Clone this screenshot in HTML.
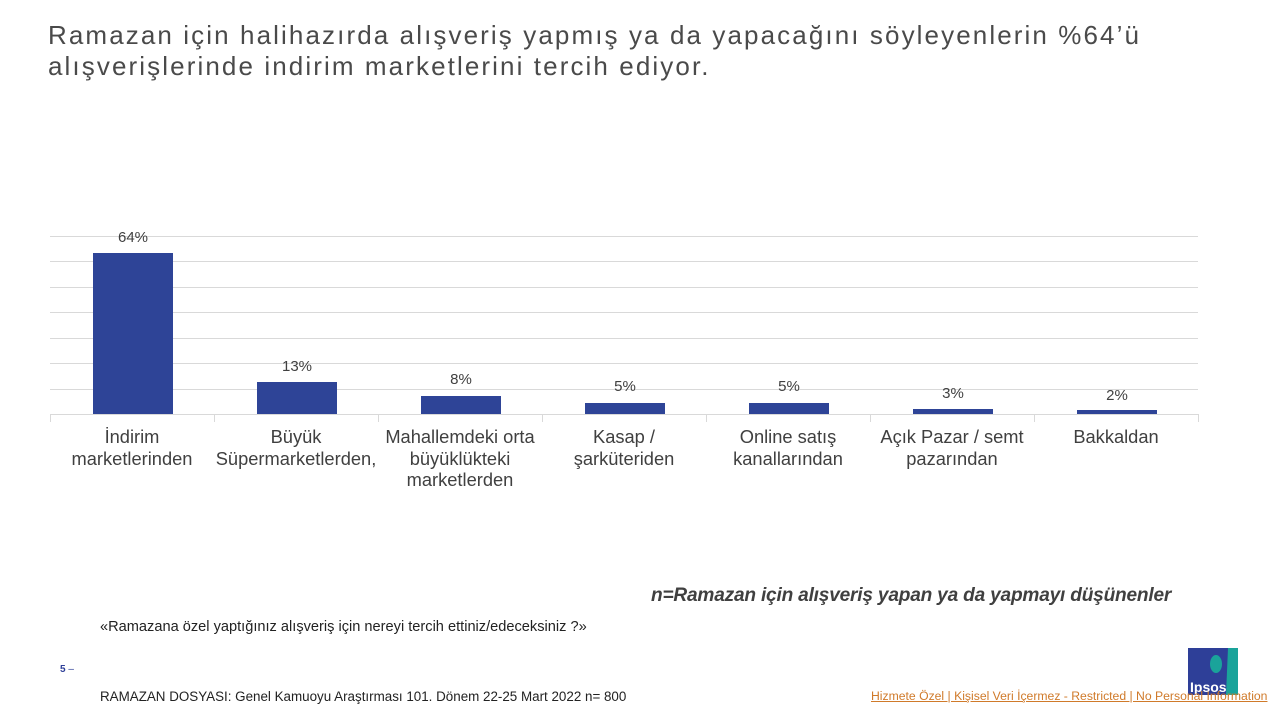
<!DOCTYPE html>
<html><head><meta charset="utf-8"><style>
body{margin:0;width:1280px;height:720px;background:#fff;position:relative;overflow:hidden;font-family:"Liberation Sans",sans-serif;color:#404040}
.t{position:absolute;left:48px;top:20px;font-size:26px;line-height:31px;letter-spacing:2.1px;color:#4a4a4a;white-space:nowrap}
.a{position:absolute;white-space:nowrap}
.lab{position:absolute;top:426px;width:164px;text-align:center;font-size:18.3px;line-height:21.5px;color:#404040;white-space:nowrap}
.v{position:absolute;width:80px;text-align:center;font-size:15px;color:#404040}
</style></head><body>
<div class="t">Ramazan için halihazırda alışveriş yapmış ya da yapacağını söyleyenlerin %64’ü<br>alışverişlerinde indirim marketlerini tercih ediyor.</div>
<svg class="a" style="left:0;top:0" width="1280" height="720">
<g stroke="#d9d9d9" stroke-width="1">
<line x1="50" x2="1198" y1="236.5" y2="236.5"/><line x1="50" x2="1198" y1="261.5" y2="261.5"/>
<line x1="50" x2="1198" y1="287.5" y2="287.5"/><line x1="50" x2="1198" y1="312.5" y2="312.5"/>
<line x1="50" x2="1198" y1="338.5" y2="338.5"/><line x1="50" x2="1198" y1="363.5" y2="363.5"/>
<line x1="50" x2="1198" y1="389.5" y2="389.5"/><line x1="50" x2="1198" y1="414.5" y2="414.5"/>
<line x1="50.5" x2="50.5" y1="414" y2="422"/><line x1="214.5" x2="214.5" y1="414" y2="422"/>
<line x1="378.5" x2="378.5" y1="414" y2="422"/><line x1="542.5" x2="542.5" y1="414" y2="422"/>
<line x1="706.5" x2="706.5" y1="414" y2="422"/><line x1="870.5" x2="870.5" y1="414" y2="422"/>
<line x1="1034.5" x2="1034.5" y1="414" y2="422"/><line x1="1198.5" x2="1198.5" y1="414" y2="422"/>
</g>
<g fill="#2e4497">
<rect x="93" y="253" width="80" height="161"/>
<rect x="257" y="382" width="80" height="32"/>
<rect x="421" y="396" width="80" height="18"/>
<rect x="585" y="403" width="80" height="11"/>
<rect x="749" y="403" width="80" height="11"/>
<rect x="913" y="409" width="80" height="5"/>
<rect x="1077" y="410" width="80" height="4"/>
</g>
<rect x="1188" y="648" width="50" height="47" fill="#2e3f98"/>
<path d="M1228 648 L1238 648 L1238 695 L1226 695 Z" fill="#1aa39a"/>
<ellipse cx="1216" cy="664" rx="6" ry="9" fill="#1aa39a"/>
<text x="1190" y="692" font-family="Liberation Sans" font-weight="bold" font-size="14" fill="#fff">Ipsos</text>
</svg>
<div class="v" style="left:93px;top:229px">64%</div>
<div class="v" style="left:257px;top:358px">13%</div>
<div class="v" style="left:421px;top:371px">8%</div>
<div class="v" style="left:585px;top:378px">5%</div>
<div class="v" style="left:749px;top:378px">5%</div>
<div class="v" style="left:913px;top:385px">3%</div>
<div class="v" style="left:1077px;top:387px">2%</div>
<div class="lab" style="left:50px">İndirim<br>marketlerinden</div>
<div class="lab" style="left:214px">Büyük<br>Süpermarketlerden,</div>
<div class="lab" style="left:378px">Mahallemdeki orta<br>büyüklükteki<br>marketlerden</div>
<div class="lab" style="left:542px">Kasap /<br>şarküteriden</div>
<div class="lab" style="left:706px">Online satış<br>kanallarından</div>
<div class="lab" style="left:870px">Açık Pazar / semt<br>pazarından</div>
<div class="lab" style="left:1034px">Bakkaldan</div>
<div class="a" style="left:651px;top:585px;font-size:19.1px;font-weight:bold;font-style:italic;color:#404040;letter-spacing:-0.2px">n=Ramazan için alışveriş yapan ya da yapmayı düşünenler</div>
<div class="a" style="left:100px;top:619px;font-size:14.6px;color:#222">«Ramazana özel yaptığınız  alışveriş için nereyi tercih ettiniz/edeceksiniz ?»</div>
<div class="a" style="left:60px;top:664px;font-size:10px;color:#2e3f98;font-weight:bold">5 <span style="font-weight:normal">–</span></div>
<div class="a" style="left:100px;top:689px;font-size:13.4px;color:#222">RAMAZAN DOSYASI: Genel Kamuoyu Araştırması 101. Dönem  22-25 Mart 2022 n= 800</div>
<div class="a" style="left:871px;top:689px;font-size:12.2px;color:#d07a2a;text-decoration:underline;width:397px;overflow:hidden">Hizmete Özel | Kişisel Veri İçermez - Restricted | No Personal Information</div>
</body></html>
